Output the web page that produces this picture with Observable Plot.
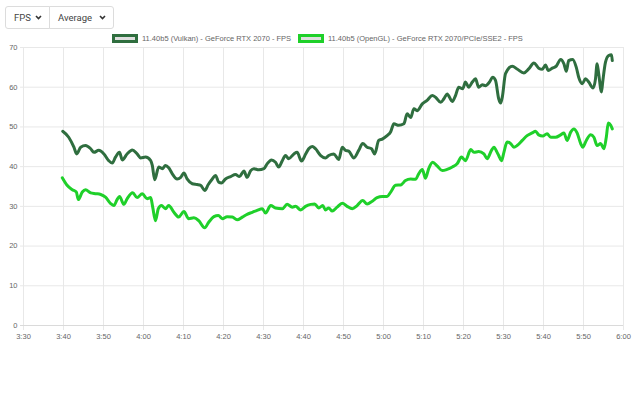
<!DOCTYPE html>
<html>
<head>
<meta charset="utf-8">
<script src="https://cdn.jsdelivr.net/npm/d3@7"></script>
<script src="https://cdn.jsdelivr.net/npm/@observablehq/plot@0.6"></script>
<style>
  html, body { margin: 0; padding: 0; background: #fff; }
  #wrap { width: 640px; height: 398px; position: relative; overflow: hidden; }
  #head { position: relative; height: 42px; }
  .btns { position: absolute; left: 5px; top: 6px; display: flex; }
  .btn { box-sizing: border-box; height: 23px; border: 1px solid #dcdcdc; display: flex; align-items: center;
         font: 9.5px Roboto, "Noto Sans", sans-serif; color: #444; padding: 0 7px 0 8px; background: #fff; }
  .btn + .btn { margin-left: -1px; }
  .btn:first-child { border-radius: 3px 0 0 3px; width: 45px; }
  .btn:last-child { border-radius: 0 3px 3px 0; width: 65px; }
  .btn svg { margin-left: auto; }
  .legend { position: absolute; top: 33px; left: 0; width: 640px; height: 10px;
            font: 7.5px "Liberation Sans", Arial, sans-serif; color: #666; }
  .item { position: absolute; top: 0; display: flex; align-items: center; height: 10px; white-space: nowrap; }
  .box { box-sizing: border-box; width: 26px; height: 9px; border: 3px solid; background: #dedede; margin-right: 4px; }
</style>
</head>
<body>
<div id="wrap">
  <div id="head">
    <div class="btns">
      <div class="btn">FPS<svg width="7" height="5" viewBox="0 0 7 5"><path d="M1 1 L3.5 3.5 L6 1" fill="none" stroke="#333" stroke-width="1.6"/></svg></div>
      <div class="btn">Average<svg width="7" height="5" viewBox="0 0 7 5"><path d="M1 1 L3.5 3.5 L6 1" fill="none" stroke="#333" stroke-width="1.6"/></svg></div>
    </div>
    <div class="legend" id="legend"></div>
  </div>
  <div id="chart"></div>
</div>
<script>
// ---- data ----
const seriesNames = [
  "11.40b5 (Vulkan) - GeForce RTX 2070 - FPS",
  "11.40b5 (OpenGL) - GeForce RTX 2070/PCIe/SSE2 - FPS"
];
const seriesColors = ["#2f6e3f", "#1fd02a"];

// elapsed time in seconds
const vulkanT = [219.8,221.3,222.6,223.3,224.3,225.5,226.8,227.6,228.8,230.1,231.3,232.2,233.0,234.0,234.7,235.9,237.2,238.4,239.3,240.5,241.8,242.2,242.8,243.8,244.7,245.5,246.3,247.2,248.4,249.3,250.1,250.9,252.2,253.4,254.3,255.3,256.2,257.2,258.0,258.8,259.5,260.5,261.8,263.0,264.0,265.1,265.9,266.8,267.6,268.8,270.1,270.9,272.0,273.0,273.8,274.7,275.5,276.3,277.6,278.4,279.5,280.5,281.3,282.2,283.0,284.3,285.5,286.3,287.6,288.8,289.7,290.5,291.3,292.6,293.8,294.8,295.9,297.0,297.8,298.8,299.8,300.9,301.8,302.6,303.8,305.1,305.9,306.8,307.6,308.4,309.7,310.9,312.2,313.0,314.3,315.1,315.9,317.2,318.0,318.8,319.8,320.5,321.3,322.2,323.0,323.8,324.7,325.5,326.5,327.3,328.0,328.8,329.3,329.7,330.5,332.2,333.4,335.1,336.3,337.6,338.8,339.7,340.5,341.2,342.2,343.2,344.3,345.1,345.7,346.3,347.3,348.2,348.8,349.7,350.5,351.3,352.4,353.0,353.4,353.8,354.5,354.8,355.5,356.3,357.0,357.2];
const vulkanFps = [48.9,47.4,44.9,43.2,44.9,45.3,44.5,43.6,44.1,43.2,41.5,40.9,42.4,43.6,41.7,43.2,44.2,43.2,42.2,42.4,41.5,40.3,36.7,39.9,39.5,40.3,39.7,38.2,36.9,37.3,38.4,36.9,35.7,35.5,35.3,34.0,35.5,36.9,37.8,36.1,35.9,36.9,37.5,38.0,37.5,38.9,37.3,39.0,39.5,39.2,39.5,40.7,41.7,41.1,39.9,41.5,42.8,42.0,43.2,43.6,41.4,43.1,44.5,45.1,44.5,42.8,42.2,42.8,43.2,41.8,44.9,44.1,43.9,42.2,44.1,45.8,44.9,44.5,43.2,46.6,47.0,47.8,48.8,50.8,50.4,50.8,53.3,52.4,54.6,54.1,55.8,56.7,57.9,57.5,56.2,57.1,58.3,56.4,57.9,60.0,59.6,61.3,60.0,61.3,62.1,60.0,60.6,60.4,61.3,62.5,61.7,57.1,56.0,57.5,63.4,65.3,64.6,63.6,64.6,66.1,64.8,64.5,65.6,64.2,64.8,65.3,67.0,65.9,64.0,66.7,67.0,65.0,62.5,60.9,62.1,61.3,59.8,62.1,65.9,63.4,58.8,61.3,66.3,68.0,68.2,66.7];

const openglT = [219.7,220.9,222.2,223.2,223.7,224.7,225.5,226.8,228.0,229.3,230.5,231.8,232.6,233.4,234.0,235.1,235.9,237.3,238.4,239.7,240.9,241.8,242.3,243.0,243.7,244.5,245.5,246.3,247.6,248.8,250.1,251.3,252.6,253.8,255.3,256.3,257.6,258.7,259.7,260.9,262.2,263.4,264.7,265.9,267.2,268.4,269.7,270.5,271.8,273.0,274.7,275.9,277.2,278.0,279.3,280.5,281.8,282.8,283.8,284.8,285.5,286.3,287.2,288.4,289.7,290.9,292.2,293.4,294.8,295.9,297.2,298.4,299.7,300.9,301.8,303.0,304.3,305.5,306.8,308.0,308.8,309.7,310.5,311.3,312.3,313.4,314.7,315.9,317.2,318.4,319.5,320.5,321.8,322.6,323.8,325.1,325.9,327.0,327.6,328.4,328.8,329.5,330.1,330.9,331.8,332.6,333.4,334.7,335.9,337.2,338.0,338.8,339.8,340.9,341.8,343.0,344.3,345.1,345.9,346.8,347.6,348.4,349.3,349.8,350.7,351.8,352.6,353.4,354.3,355.1,355.7,356.2,356.8,357.2];
const openglFps = [37.2,35.3,34.2,33.6,31.7,33.6,34.2,33.4,33.2,33.0,32.3,30.7,30.2,31.7,32.5,30.5,31.9,33.4,32.2,33.2,31.9,32.2,29.8,26.4,29.4,30.2,29.4,30.2,28.5,27.3,28.7,26.9,27.1,26.4,24.6,26.0,27.4,27.7,26.9,27.4,27.3,26.6,27.3,28.0,28.5,29.0,29.4,28.3,30.2,29.6,29.4,30.5,29.8,30.0,29.1,30.0,30.5,30.6,29.6,30.2,29.1,29.6,28.8,29.8,30.8,30.0,29.4,30.2,31.5,30.6,31.3,32.2,32.5,32.5,33.6,35.3,35.4,36.5,36.9,36.8,38.2,39.3,37.1,39.5,41.1,40.2,39.0,39.3,39.9,40.7,42.4,41.5,44.3,43.6,43.8,43.2,42.0,44.1,44.9,43.6,42.8,41.5,43.6,46.2,45.8,44.9,45.3,46.6,47.8,48.5,48.9,48.0,47.7,48.3,47.4,47.4,48.0,48.5,46.6,48.7,49.5,48.5,45.8,44.9,46.6,48.0,47.4,45.3,45.8,44.5,47.4,51.0,50.4,49.5];

const xTicks = [210,220,230,240,250,260,270,280,290,300,310,320,330,340,350,360];
const yTicks = [0,10,20,30,40,50,60,70];

// ---- build ----
const data = [
  ...vulkanT.map((t, i) => ({t, fps: vulkanFps[i], s: seriesNames[0]})),
  ...openglT.map((t, i) => ({t, fps: openglFps[i], s: seriesNames[1]}))
];
const fmt = t => `${Math.floor(t / 60)}:${String(t % 60).padStart(2, "0")}`;

// legend (HTML)
const legend = document.getElementById("legend");
const legendLeft = [112, 298];
seriesNames.forEach((name, i) => {
  const it = document.createElement("div");
  it.className = "item";
  it.style.left = legendLeft[i] + "px";
  it.innerHTML = `<span class="box" style="border-color:${seriesColors[i]}"></span><span>${name}</span>`;
  legend.appendChild(it);
});

const chart = Plot.plot({
  width: 640,
  height: 356,
  marginLeft: 23,
  marginRight: 17,
  marginTop: 5,
  marginBottom: 73,
  style: {fontFamily: "'Liberation Sans', Arial, sans-serif", fontSize: "7.5px", color: "#666", background: "#fff", overflow: "visible"},
  x: {domain: [210, 360], type: "linear", label: null},
  y: {domain: [0, 70], label: null},
  color: {domain: seriesNames, range: seriesColors},
  marks: [
    Plot.gridX(xTicks, {stroke: "#e8e8e8", strokeOpacity: 1, insetBottom: -5}),
    Plot.gridY(yTicks.filter(d => d > 0), {stroke: "#e8e8e8", strokeOpacity: 1, insetLeft: -3}),
    Plot.ruleY([0], {stroke: "#dadada", strokeWidth: 1.2, insetLeft: -3}),
    Plot.axisX(xTicks, {tickSize: 0, tickPadding: 8, tickFormat: fmt, fill: "#666", label: null}),
    Plot.axisY(yTicks, {tickSize: 0, tickPadding: 6, fill: "#666", label: null}),
    Plot.line(data, {x: "t", y: "fps", z: "s", stroke: "s", strokeWidth: 3, curve: "monotone-x", strokeLinejoin: "round", strokeLinecap: "round"})
  ]
});
document.getElementById("chart").appendChild(chart);
</script>
</body>
</html>
